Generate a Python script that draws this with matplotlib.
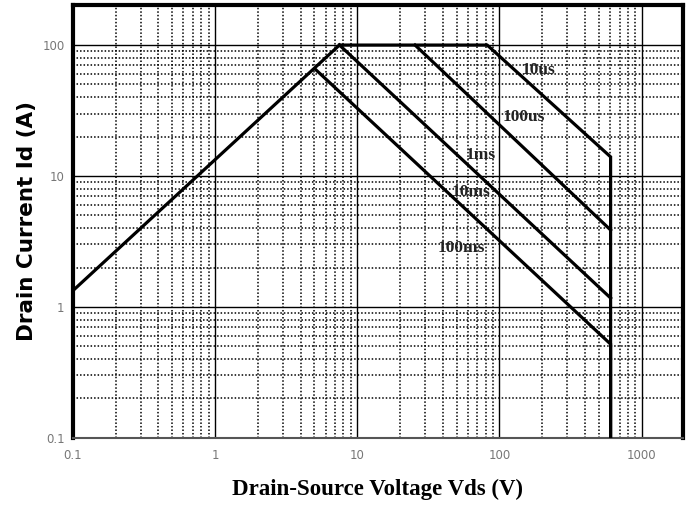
import matplotlib.pyplot as plt
from matplotlib.ticker import FixedLocator, NullFormatter, LogLocator

# safe operating area curves (Vds in V, Id in A)
rds_v = [0.1, 7.5]
rds_i = [1.33, 100]

dc_v = [5.1, 605, 605]
dc_i = [65, 0.52, 0.1]

ms10_v = [7.5, 605]
ms10_i = [100, 1.17]

ms1_v = [25.5, 605]
ms1_i = [100, 3.87]

us10_v = [7.5, 82, 605, 605]
us10_i = [100, 100, 14, 0.1]

labels = ['10us', '100us', '1ms', '10ms', '100ms']
label_x = [189, 149, 74, 63, 54]
label_y = [64, 28.2, 14.5, 7.55, 2.82]

xticks = [0.1, 1, 10, 100, 1000]
xticklabels = ['0.1', '1', '10', '100', '1000']
yticks = [0.1, 1, 10, 100]
yticklabels = ['0.1', '1', '10', '100']

fig = plt.figure(figsize=(6.87, 5.08), dpi=100)
ax = fig.add_axes([0.106, 0.138, 0.888, 0.852])
ax.set_xscale('log')
ax.set_yscale('log')
ax.set_xlim(0.1, 1950)
ax.set_ylim(0.1, 202)

lw = 2.3
for xs, ys in [(rds_v, rds_i), (dc_v, dc_i), (ms10_v, ms10_i), (ms1_v, ms1_i), (us10_v, us10_i)]:
    ax.plot(xs, ys, color='black', lw=lw, solid_joinstyle='miter', zorder=3)

for t, x, y in zip(labels, label_x, label_y):
    ax.text(x, y, t, ha='center', va='center', fontsize=12.5, fontweight='bold',
            family='Liberation Serif', color='#222222', zorder=4)

ax.xaxis.set_major_locator(FixedLocator(xticks))
ax.yaxis.set_major_locator(FixedLocator(yticks))
ax.set_xticklabels(xticklabels)
ax.set_yticklabels(yticklabels)
ax.xaxis.set_minor_locator(LogLocator(base=10, subs=range(2, 10), numticks=20))
ax.yaxis.set_minor_locator(LogLocator(base=10, subs=range(2, 10), numticks=20))
ax.xaxis.set_minor_formatter(NullFormatter())
ax.yaxis.set_minor_formatter(NullFormatter())

ax.grid(which='major', color='black', lw=1.0, ls='-')
ax.grid(which='minor', color='black', lw=1.1, ls=(0, (1, 1.3)))
ax.set_axisbelow(True)

ax.tick_params(which='both', length=0, labelsize=8.5, labelcolor='#777777', pad=8)
ax.tick_params(axis='y', pad=6)
for s in ax.spines.values():
    s.set_linewidth(3)
ax.spines['bottom'].set_linewidth(1.5)
ax.spines['bottom'].set_color('#555555')

ax.set_xlabel('Drain-Source Voltage Vds (V)', family='Liberation Serif',
              fontweight='bold', fontsize=16.5, labelpad=12)
ax.set_ylabel('Drain Current Id (A)', family='DejaVu Sans',
              fontweight='bold', fontsize=15.5, labelpad=4)

fig.savefig('out.png', dpi=100)
